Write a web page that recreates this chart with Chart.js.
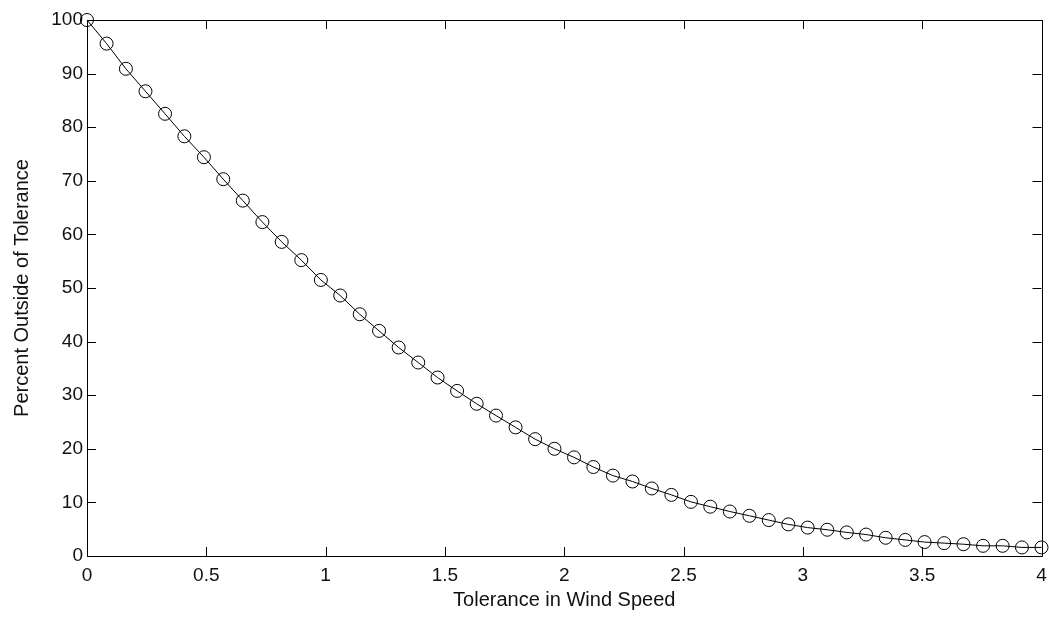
<!DOCTYPE html>
<html>
<head>
<meta charset="utf-8">
<script src="https://cdn.jsdelivr.net/npm/chart.js@4"></script>
<style>
  html, body { margin: 0; padding: 0; background: #fff; }
  #wrap { width: 1049px; height: 619px; }
</style>
</head>
<body>
<div id="wrap"><canvas id="tol_chart"></canvas></div>
<script>
// tolerance in wind speed (x) and percent outside of tolerance (y)
var tolerance = [0, 0.082, 0.163, 0.245, 0.327, 0.408, 0.49, 0.571, 0.653, 0.735,
    0.816, 0.898, 0.98, 1.061, 1.143, 1.224, 1.306, 1.388, 1.469, 1.551,
    1.633, 1.714, 1.796, 1.878, 1.959, 2.041, 2.122, 2.204, 2.286, 2.367,
    2.449, 2.531, 2.612, 2.694, 2.776, 2.857, 2.939, 3.02, 3.102, 3.184,
    3.265, 3.347, 3.429, 3.51, 3.592, 3.673, 3.755, 3.837, 3.918, 4];
var percentOutside = [100, 95.6, 90.9, 86.7, 82.5, 78.3, 74.4, 70.3, 66.3, 62.3,
    58.6, 55.2, 51.5, 48.6, 45.1, 42.0, 38.9, 36.1, 33.3, 30.8,
    28.4, 26.2, 24.0, 21.8, 20.0, 18.4, 16.6, 15.0, 13.9, 12.6,
    11.4, 10.1, 9.2, 8.3, 7.5, 6.7, 5.9, 5.3, 4.9, 4.4,
    4.0, 3.4, 3.0, 2.6, 2.4, 2.2, 1.9, 1.9, 1.6, 1.6];
var xTicks = [0, 0.5, 1, 1.5, 2, 2.5, 3, 3.5, 4];
var yTicks = [0, 10, 20, 30, 40, 50, 60, 70, 80, 90, 100];

var points = tolerance.map(function (x, i) { return {x: x, y: percentOutside[i]}; });

// matlab style box with ticks pointing inward
var boxTicks = {
    id: 'boxTicks',
    beforeDatasetsDraw: function (chart) {
        var ctx = chart.ctx, a = chart.chartArea;
        var xs = chart.scales.x, ys = chart.scales.y;
        var len = 9;
        ctx.save();
        ctx.strokeStyle = '#000';
        ctx.lineWidth = 1;
        ctx.beginPath();
        ctx.rect(Math.round(a.left) + 0.5, Math.round(a.top) + 0.5,
            Math.round(a.right - a.left), Math.round(a.bottom - a.top));
        xTicks.forEach(function (v) {
            var px = Math.round(xs.getPixelForValue(v)) + 0.5;
            ctx.moveTo(px, a.bottom); ctx.lineTo(px, a.bottom - len);
            ctx.moveTo(px, a.top); ctx.lineTo(px, a.top + len);
        });
        yTicks.forEach(function (v) {
            var py = Math.round(ys.getPixelForValue(v)) + 0.5;
            ctx.moveTo(a.left, py); ctx.lineTo(a.left + len, py);
            ctx.moveTo(a.right, py); ctx.lineTo(a.right - len, py);
        });
        ctx.stroke();
        ctx.restore();
    }
};

var tickFont = {family: '"Liberation Sans", Arial, sans-serif', size: 19};
var titleFont = {family: '"Liberation Sans", Arial, sans-serif', size: 20};

new Chart(document.getElementById('tol_chart'), {
    type: 'scatter',
    data: {
        datasets: [{
            label: 'Percent Outside of Tolerance',
            data: points,
            showLine: true,
            borderColor: '#000',
            borderWidth: 1,
            backgroundColor: 'rgba(0,0,0,0)',
            pointRadius: 6.5,
            pointBorderColor: '#000',
            pointBorderWidth: 1,
            pointBackgroundColor: 'rgba(0,0,0,0)',
            clip: false
        }]
    },
    options: {
        responsive: true,
        maintainAspectRatio: false,
        animation: false,
        layout: {padding: {left: 0, top: 20, right: 7, bottom: 0}},
        plugins: {
            legend: {display: false},
            tooltip: {enabled: false}
        },
        scales: {
            x: {
                type: 'linear',
                min: 0,
                max: 4,
                afterFit: function (s) {
                    s.height = 63;
                    s.paddingLeft = 0;
                    s.paddingRight = 0;
                },
                afterBuildTicks: function (s) {
                    s.ticks = xTicks.map(function (v) { return {value: v}; });
                },
                grid: {display: false, drawTicks: false},
                border: {display: false},
                ticks: {
                    color: '#111', font: tickFont, padding: 8, maxRotation: 0,
                    callback: function (v) { return String(v); }
                },
                title: {display: true, text: 'Tolerance in Wind Speed', color: '#111',
                    font: titleFont, padding: {top: 0, bottom: 7}}
            },
            y: {
                type: 'linear',
                min: 0,
                max: 100,
                afterFit: function (s) {
                    s.width = 87;
                    s.paddingTop = 0;
                    s.paddingBottom = 0;
                },
                afterBuildTicks: function (s) {
                    s.ticks = yTicks.map(function (v) { return {value: v}; });
                },
                grid: {display: false, drawTicks: false},
                border: {display: false},
                ticks: {
                    color: '#111', font: tickFont, padding: 4,
                    callback: function (v) { return String(v); }
                },
                title: {display: true, text: 'Percent Outside of Tolerance', color: '#111',
                    font: titleFont, padding: {top: 10, bottom: 0}}
            }
        }
    },
    plugins: [boxTicks]
});
</script>
</body>
</html>
